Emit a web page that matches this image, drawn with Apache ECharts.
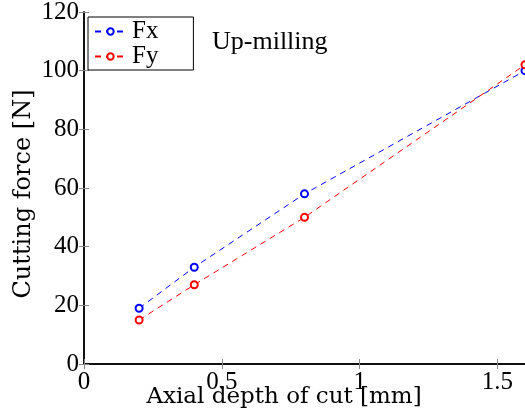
<!DOCTYPE html>
<html>
<head>
<meta charset="utf-8">
<script src="https://cdn.jsdelivr.net/npm/echarts@6/dist/echarts.min.js"></script>
<style>
  html, body { margin: 0; padding: 0; background: #fff; }
  #chart { width: 525px; height: 417px; }
</style>
</head>
<body>
<div id="chart"></div>
<script>
// axial depth of cut [mm]
const depth = [0.2, 0.4, 0.8, 1.6];
// cutting forces [N]
const fx = [19, 33, 58, 100];
const fy = [15, 27, 50, 102];
const seriesNames = ["Fx", "Fy"];

const font = "Liberation Serif";
const wideFont = "DejaVu Serif";
const pairs = (xs, ys) => xs.map((x, i) => [x, ys[i]]);

const myChart = echarts.init(document.getElementById("chart"));

const inTicks = { show: true, inside: true, length: 5, lineStyle: { color: "#888", width: 1 } };

const option = {
  animation: false,
  backgroundColor: "#fff",
  textStyle: { fontFamily: font },
  grid: { left: 84, right: 0, top: 12, bottom: 53, containLabel: false, outerBoundsMode: "none" },
  legend: {
    left: 88, top: 17, orient: "vertical",
    padding: [2, 35, 1, 6], itemGap: 0,
    itemWidth: 31, itemHeight: 8,
    borderColor: "#000", borderWidth: 1, backgroundColor: "#fff",
    textStyle: { fontFamily: font, fontSize: 25, color: "#000", padding: [0, 0, 0, 1] },
    data: seriesNames
  },
  graphic: [{
    type: "text", left: 212, top: 29,
    style: { text: "Up-milling", font: "26px " + font, fill: "#000" }
  }],
  xAxis: [{
    type: "value", min: 0, max: 1.6, interval: 0.5, position: "bottom",
    name: "Axial depth of cut [mm]", nameLocation: "middle", nameGap: 22, nameMoveOverlap: false,
    nameTextStyle: { fontFamily: wideFont, fontSize: 23, color: "#000", padding: [0, 41, 0, 0] },
    axisLine: { lineStyle: { color: "#000", width: 1.5 } },
    axisTick: inTicks,
    axisLabel: { fontFamily: font, fontSize: 25, color: "#000", margin: 6, showMaxLabel: false },
    splitLine: { show: false }
  }, {
    type: "value", min: 0, max: 1.6, interval: 0.5, position: "top",
    axisLine: { lineStyle: { color: "#000", width: 1.5 } },
    axisTick: inTicks, axisLabel: { show: false }, splitLine: { show: false }
  }],
  yAxis: [{
    type: "value", min: 0, max: 120, interval: 20, position: "left",
    name: "Cutting force [N]", nameLocation: "middle", nameGap: 48, nameMoveOverlap: false,
    nameTextStyle: { fontFamily: wideFont, fontSize: 24, color: "#000", padding: [0, 12, 0, 0] },
    axisLine: { show: true, lineStyle: { color: "#000", width: 1.5 } },
    axisTick: inTicks,
    axisLabel: { fontFamily: font, fontSize: 25, color: "#000", margin: 5 },
    splitLine: { show: false }
  }, {
    type: "value", min: 0, max: 120, interval: 20, position: "right",
    axisLine: { show: true, lineStyle: { color: "#000", width: 1.5 } },
    axisTick: inTicks, axisLabel: { show: false }, splitLine: { show: false }
  }],
  series: [{
    name: seriesNames[0], type: "line", data: pairs(depth, fx),
    symbol: "emptyCircle", symbolSize: 7, color: "#0000ff",
    lineStyle: { type: [6, 5], width: 1, color: "#0000ff" },
    itemStyle: { color: "#0000ff", borderWidth: 1 }
  }, {
    name: seriesNames[1], type: "line", data: pairs(depth, fy),
    symbol: "emptyCircle", symbolSize: 7, color: "#ff0000",
    lineStyle: { type: [6, 5], width: 1, color: "#ff0000" },
    itemStyle: { color: "#ff0000", borderWidth: 1 }
  }]
};

myChart.setOption(option);
window.addEventListener("resize", () => myChart.resize());
</script>
</body>
</html>
